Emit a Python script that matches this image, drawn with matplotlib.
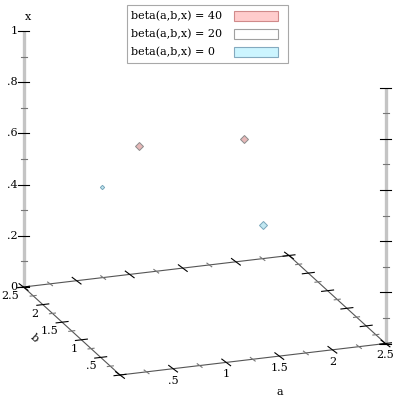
import numpy as np
import matplotlib
matplotlib.use('Agg')
import matplotlib.pyplot as plt
from matplotlib.patches import Rectangle

plt.rcParams['font.family'] = ['DejaVu Serif']

# data
levels = [40, 20, 0]
level_faces = ['#ffcccc', '#ffffff', '#ccf5ff']
level_edges = ['#d08a8a', '#a0a0a0', '#84aabf']

pt_a = [0.36, 1.71, 0.56, 1.71]
pt_b = [0.5, 1.5, 2.0, 1.0]
pt_x = [0.81, 0.633, 0.433, 0.365]
pt_level = [40, 40, 0, 0]
pt_size = [4.0, 4.0, 2.2, 4.4]

a_ticks = np.arange(0, 2.51, 0.25)
b_ticks = np.arange(0, 2.51, 0.25)
x_ticks = np.arange(0, 1.01, 0.1)
a_labels = {0.5: '.5', 1.0: '1', 1.5: '1.5', 2.0: '2', 2.5: '2.5'}
b_labels = {0.5: '.5', 1.0: '1', 1.5: '1.5', 2.0: '2', 2.5: '2.5'}
x_labels = {0.0: '0', 0.2: '.2', 0.4: '.4', 0.6: '.6', 0.8: '.8', 1.0: '1'}

# view (pixels per unit)
origin = np.array([120.0, 375.0])
va = np.array([106.2, -12.6])
vb = np.array([-38.6, -35.2])
vx = np.array([0.0, -256.0])


def proj(a, b, x):
    p = origin + va * np.asarray(a)[..., None] + vb * np.asarray(b)[..., None] + vx * np.asarray(x)[..., None]
    return p[..., 0], p[..., 1]


fig = plt.figure(figsize=(4, 4), dpi=100)
ax = fig.add_axes([0, 0, 1, 1])
ax.set_xlim(0, 400)
ax.set_ylim(400, 0)
ax.axis('off')

edge_col = '#555555'
# floor box
for (a0, b0, a1, b1) in [(0, 0, 2.5, 0), (0, 2.5, 2.5, 2.5), (0, 0, 0, 2.5), (2.5, 0, 2.5, 2.5)]:
    xs, ys = proj([a0, a1], [b0, b1], [0, 0])
    ax.plot(xs, ys, color=edge_col, lw=0.8, zorder=1)

# vertical axes
for (a0, b0) in [(0, 2.5), (2.5, 0)]:
    xs, ys = proj([a0, a0], [b0, b0], [0, 1])
    ax.plot(xs, ys, color='#c4c4c4', lw=2.4, zorder=1, solid_capstyle='butt')

def is_major(v, step):
    return abs(v / step - round(v / step)) < 1e-6

ta = np.array([0.8, 0.6])
tb = np.array([0.993, -0.118])
for v in a_ticks:
    major = is_major(v, 0.5)
    L = 5.5 if major else 3
    for b0 in [0, 2.5]:
        cx, cy = proj(v, b0, 0)
        ax.plot([cx - ta[0] * L, cx + ta[0] * L], [cy - ta[1] * L, cy + ta[1] * L],
                color='black' if major else '#777777', lw=0.8, zorder=2)
    if v in a_labels:
        cx, cy = proj(v, 0, 0)
        ax.text(cx, cy + 12, a_labels[v], ha='center', va='center', fontsize=8)
for v in b_ticks:
    major = is_major(v, 0.5)
    L = 6 if major else 3
    for a0 in [0, 2.5]:
        cx, cy = proj(a0, v, 0)
        ax.plot([cx - tb[0] * L, cx + tb[0] * L], [cy - tb[1] * L, cy + tb[1] * L],
                color='black' if major else '#777777', lw=0.8, zorder=2)
    if v in b_labels:
        cx, cy = proj(0, v, 0)
        ax.text(cx - 4, cy + 9, b_labels[v], ha='right', va='center', fontsize=8)
for v in x_ticks:
    major = is_major(v, 0.2)
    L = 5.5 if major else 3
    for (a0, b0) in [(0, 2.5), (2.5, 0)]:
        cx, cy = proj(a0, b0, v)
        ax.plot([cx - L, cx + L], [cy, cy], color='black' if major else '#777777',
                lw=0.8, zorder=2)
    key = round(v, 1)
    if key in x_labels:
        cx, cy = proj(0, 2.5, v)
        ax.text(cx - 6, cy, x_labels[key], ha='right', va='center', fontsize=8)

# axis titles
ax.text(280, 392, 'a', ha='center', va='center', fontsize=8)
ax.text(34, 338, 'b', ha='center', va='center', fontsize=8, rotation=-42)
cx, cy = proj(0, 2.5, 1)
ax.text(cx + 4, cy - 14, 'x', ha='center', va='center', fontsize=8)

# isosurface fragments
for a, b, x, lev, s in zip(pt_a, pt_b, pt_x, pt_level, pt_size):
    i = levels.index(lev)
    px, py = proj(a, b, x)
    ax.plot(px, py, marker='D', ms=s, mfc='#e6b8b8' if lev == 40 else '#c2e8f2',
            mec='#8c8c8c' if lev == 40 else '#78a6ba', mew=0.7, ls='none', zorder=3)

# legend
ax.add_patch(Rectangle((126.5, 4.5), 161, 58, facecolor='white', edgecolor='#a8a8a8',
                       lw=0.8, zorder=4))
for k, (lev, f, e) in enumerate(zip(levels, level_faces, level_edges)):
    y = 16 + 18 * k
    ax.text(131, y, 'beta(a,b,x) = %d' % lev, ha='left', va='center', fontsize=8, zorder=5)
    ax.add_patch(Rectangle((234, y - 5), 44, 10, facecolor=f, edgecolor=e, lw=0.8, zorder=5))

fig.savefig('out.png', dpi=100)
